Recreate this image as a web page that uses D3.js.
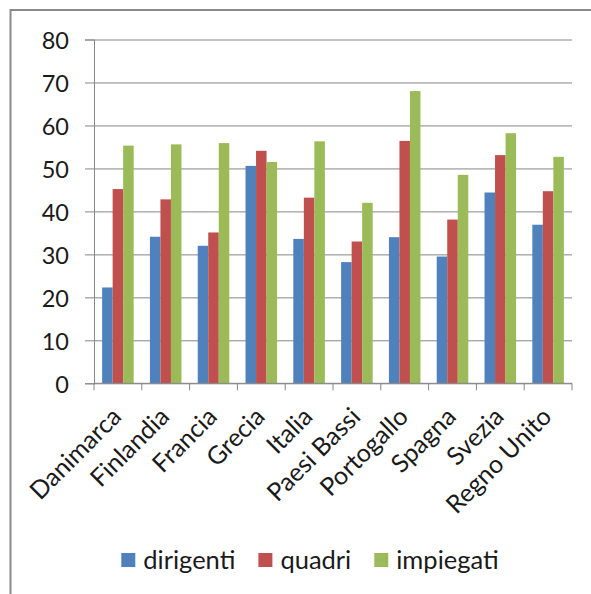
<!DOCTYPE html>
<html><head><meta charset="utf-8">
<script src="https://cdn.jsdelivr.net/npm/d3@7"></script>
<style>
html,body{margin:0;padding:0;background:#fff;}
svg text{font-family:Lato,"Open Sans",sans-serif;fill:#1a1a1a;}
</style></head>
<body>
<svg id="chart" width="591" height="594"></svg>
<script>
const categories = ["Danimarca","Finlandia","Francia","Grecia","Italia","Paesi Bassi","Portogallo","Spagna","Svezia","Regno Unito"];
const seriesNames = ["dirigenti","quadri","impiegati"];
const dirigenti = [22.3, 34.1, 32.0, 50.6, 33.6, 28.2, 34.0, 29.5, 44.4, 36.9];
const quadri    = [45.2, 42.8, 35.1, 54.1, 43.2, 33.0, 56.4, 38.1, 53.1, 44.7];
const impiegati = [55.3, 55.6, 55.9, 51.5, 56.3, 42.0, 68.0, 48.5, 58.2, 52.7];
const yTicks = [0,10,20,30,40,50,60,70,80];
const colors = ["#4F81BD","#C0504D","#9BBB59"];

const values = [dirigenti, quadri, impiegati];
const svg = d3.select("#chart");

// outer chart border
svg.append("rect").attr("x",10.5).attr("y",10).attr("width",620).attr("height",620)
  .attr("fill","none").attr("stroke","#8a8a8a").attr("stroke-width",2);

const pLeft = 94, pRight = 572, pTop = 39.5, pBottom = 383.3;
const y = d3.scaleLinear().domain([0,80]).range([pBottom, pTop]);
const x0 = d3.scaleBand().domain(categories).range([pLeft,pRight]).paddingInner(0.34).paddingOuter(0.17);
const x1 = d3.scaleBand().domain(seriesNames).range([0, x0.bandwidth()]);

// gridlines + y axis
const yAxis = d3.axisLeft(y).tickValues(yTicks).tickSize(9).tickPadding(16).tickFormat(d3.format("d"));
const gy = svg.append("g").attr("transform",`translate(${pLeft},0)`).call(yAxis);
gy.select(".domain").attr("stroke","#868686");
gy.selectAll(".tick line").attr("stroke","#868686");
gy.selectAll(".tick text").attr("font-size",23.5).attr("fill","#1a1a1a").attr("dy","0.4em");
gy.selectAll(".tick").append("line").attr("x1",0).attr("x2",pRight-pLeft).attr("stroke","#868686").attr("stroke-width",1);

// bars
const groups = svg.append("g").selectAll("g").data(categories).join("g")
  .attr("transform", d => `translate(${x0(d)},0)`);
groups.selectAll("rect").data((c,i) => seriesNames.map((s,j)=>({s, v: values[j][i], j})))
  .join("rect")
  .attr("x", d => x1(d.s)).attr("width", x1.bandwidth())
  .attr("y", d => y(d.v)).attr("height", d => y(0)-y(d.v))
  .attr("fill", d => colors[d.j]);

// x axis line and ticks at category boundaries
svg.append("line").attr("x1",pLeft).attr("x2",pRight).attr("y1",pBottom).attr("y2",pBottom).attr("stroke","#868686");
const bounds = d3.range(categories.length+1).map(i => x0.range()[0] + i*x0.step());
svg.append("g").selectAll("line").data(bounds).join("line")
  .attr("x1",d=>d).attr("x2",d=>d).attr("y1",pBottom).attr("y2",pBottom+7).attr("stroke","#868686");

// category labels
svg.append("g").selectAll("text").data(categories).join("text")
  .attr("transform", d => `translate(${x0(d)+x0.bandwidth()/2+5},${pBottom+35}) rotate(-45)`)
  .attr("text-anchor","end").attr("font-size",25).text(d=>d);

// legend
const lg = svg.append("g");
let lx = 0;
seriesNames.forEach((s,j) => {
  const g = lg.append("g").attr("transform",`translate(${lx},0)`);
  g.append("rect").attr("x",0).attr("y",-7).attr("width",14).attr("height",14).attr("fill",colors[j]);
  const t = g.append("text").attr("x",22).attr("y",0).attr("dy","0.35em").attr("font-size",25.5).text(s);
  lx += 22 + t.node().getComputedTextLength() + 23;
});
const lw = lx - 23;
lg.attr("transform",`translate(${310 - lw/2},560)`);
</script>
</body></html>
